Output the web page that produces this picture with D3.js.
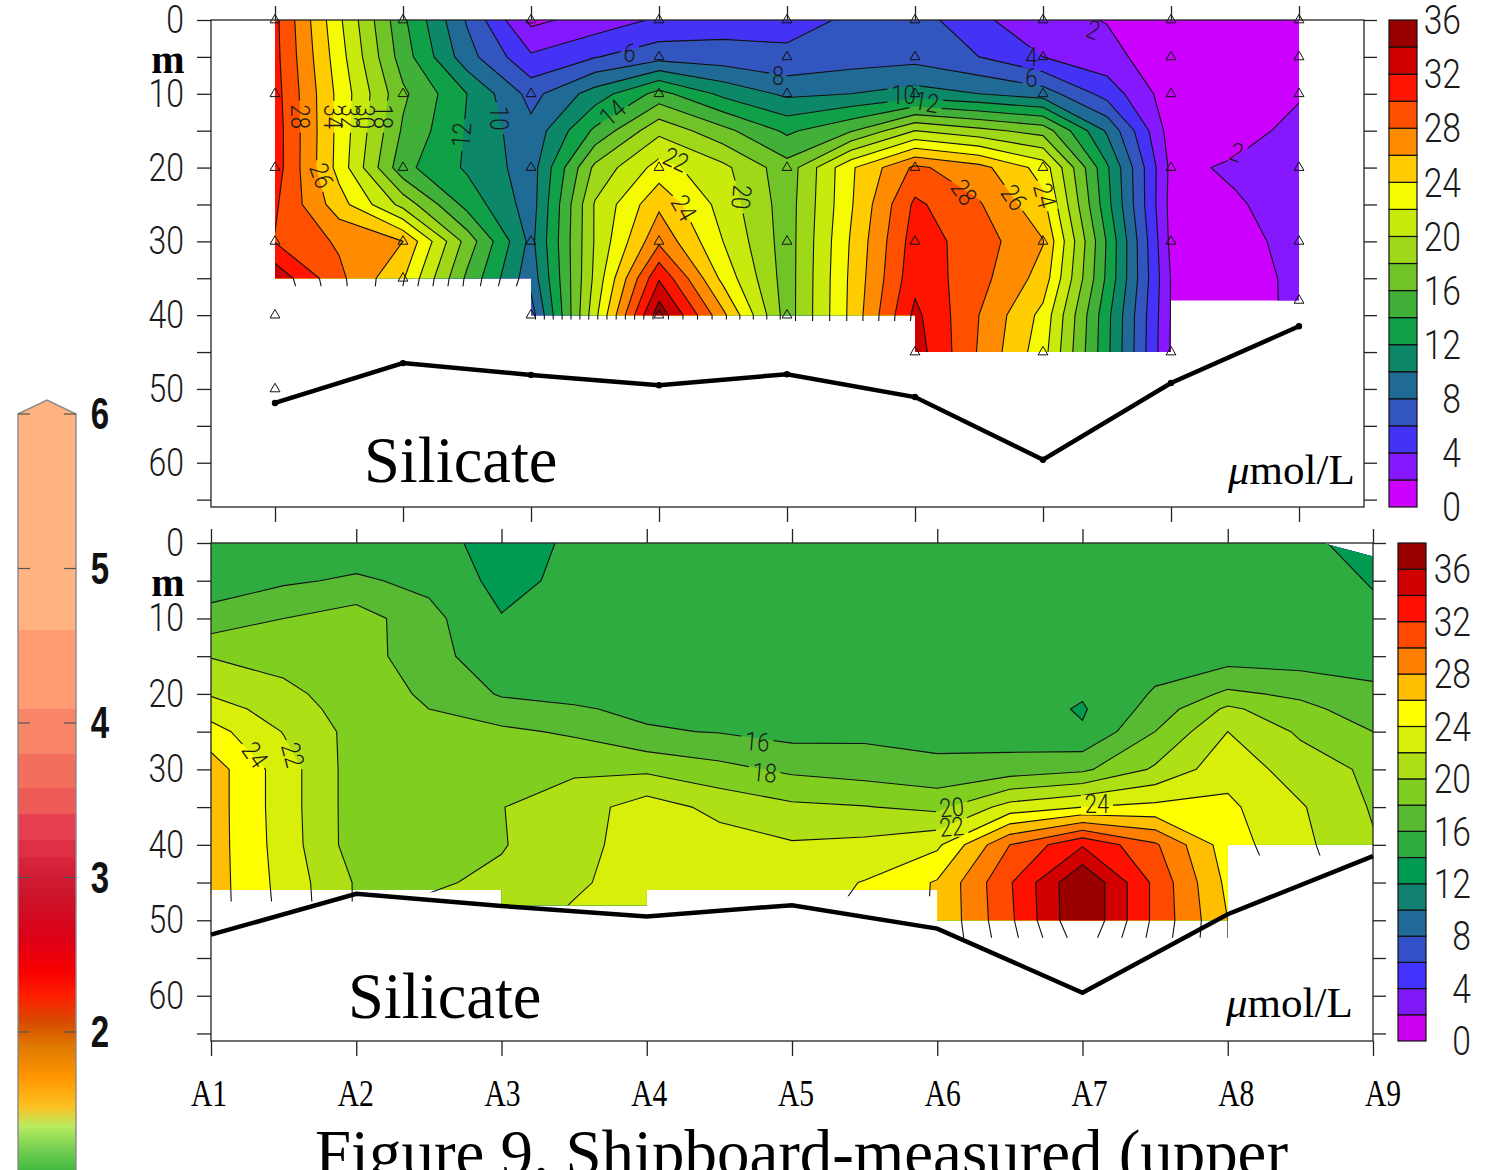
<!DOCTYPE html>
<html>
<head>
<meta charset="utf-8">
<script src="https://d3js.org/d3.v7.min.js"></script>
<style>
  html, body { margin: 0; padding: 0; background: #fff; overflow: hidden; }
  svg { display: block; }
  .thin { font-family: Roboto, "Liberation Sans", sans-serif; font-weight: 300; fill: #1a1a1a; }
  .serif { font-family: "Liberation Serif", serif; fill: #000; }
</style>
</head>
<body>
<script>

var stations = ["A1", "A2", "A3", "A4", "A5", "A6", "A7", "A8", "A9"];
var seabedDepth = [51.9, 46.5, 48.1, 49.5, 48, 51.1, 59.6, 49.2, 41.5];

// upper panel: silicate at half-station steps, one row per depth
var upperDepths = [0, 5, 10, 15, 20, 25, 30, 35, 40, 45];
var upperRow0  = [30.5, 22.4, 14.4, 7.8, 1.5, 2.8, 4.3, 5, 5.5, 6.2, 7, 4.4, 2.7, 1.9, 0.8, 0.6, 0.6];
var upperRow5  = [30.6, 22.9, 15, 8.8, 4.3, 5.9, 7.2, 6.9, 6.3, 7, 7.3, 6, 4, 2.7, 0.6, 0.3, 0.6];
var upperRow10 = [30.8, 23.4, 16.4, 12, 7.3, 10.9, 14.7, 11.5, 9.6, 10, 10.8, 10, 9, 5.2, 0.8, 0.5, 1.8];
var upperRow15 = [31, 23.4, 15.7, 11.8, 8.6, 14.4, 19.5, 16.6, 13.6, 15.8, 20, 18.6, 17.2, 9.7, 1, 1.2, 2.6];
var upperRow20 = [31, 23.3, 14.6, 11.7, 9, 18.5, 22.8, 20.5, 16.8, 23.7, 28.4, 26.7, 23.2, 12.3, 1.5, 2.3, 3];
var upperRow25 = [30.3, 24.9, 19.3, 13.3, 9, 20.2, 25.6, 21.2, 17, 23.8, 30.4, 28.2, 24.6, 12.7, 1.3, 1.8, 2.8];
var upperRow30 = [29.9, 27.7, 26, 17.2, 9.4, 20.2, 27.6, 22, 17, 24.2, 31, 29, 26.1, 13.8, 1.5, 1.5, 2.5];
var upperRow35 = [33.4, 28.5, 24.2, 15.6, 8.7, 20.5, 31.8, 23.4, 17, 24.4, 31.4, 28.7, 25.2, 13.6, 1.9, 1.4, 2.3];
var upperRow40 = [34.5, 29, 23.2, 15, 7, 21.4, 35.3, 26.5, 17, 24.5, 32.5, 28, 23.4, 12.6, 1.9, 1.4, 2.28];
var upperRow45 = [35, 30, 23, 15, 7, 21.4, 35.3, 26.5, 17, 24.5, 33, 27.8, 22.8, 12.5, 1.8, 1.4, 2];
var upperRows = [upperRow0, upperRow5, upperRow10, upperRow15, upperRow20, upperRow25, upperRow30, upperRow35, upperRow40, upperRow45];

// lower panel: same layout, one extra row at 22 m for the small patch under A7
var lowerDepths = [0, 5, 10, 15, 20, 22, 25, 30, 35, 40, 45, 50, 55];
var lowerRow0  = [15, 15, 14.7, 15.3, 12.6, 14.5, 14.6, 14.7, 14.7, 14.7, 14.8, 14.8, 14.8, 14.8, 14.8, 14.6, 13];
var lowerRow5  = [15, 15.7, 16.3, 15.5, 13.4, 14.5, 14.6, 14.7, 14.7, 14.7, 14.8, 14.8, 14.8, 14.8, 14.8, 14.7, 13.9];
var lowerRow10 = [16.7, 18, 19, 16.6, 14.1, 14.6, 14.7, 14.8, 14.8, 14.8, 14.8, 14.8, 14.8, 14.8, 14.9, 14.8, 14.3];
var lowerRow15 = [19.9, 19.3, 19, 16.7, 14.8, 14.8, 14.8, 14.8, 14.8, 14.8, 14.9, 14.8, 14.8, 15.2, 15.1, 15, 15.2];
var lowerRow20 = [21.8, 20.5, 19, 17.7, 15.8, 15.5, 15.2, 15, 14.9, 15, 15, 14.9, 14.2, 16.2, 18.4, 17.6, 16.4];
var lowerRow22 = [23, 21, 19.1, 18, 16.8, 16.2, 15.6, 15.3, 15, 15.1, 15.1, 15, 13.8, 16.8, 20.4, 18.6, 16.9];
var lowerRow25 = [24.8, 21.9, 19.3, 18.4, 18.4, 17.7, 16.2, 15.9, 15.3, 15.5, 15.3, 14.9, 14.2, 18, 22, 19.7, 18];
var lowerRow30 = [27, 23, 19, 18.9, 19.6, 19.7, 19.6, 18.6, 17.6, 17.1, 16.5, 16.9, 17.6, 20.3, 23.3, 21, 19.6];
var lowerRow35 = [27, 23, 19, 19, 19.95, 21, 23, 21.4, 20.4, 20.1, 19.5, 22.8, 24, 24.5, 24.4, 22.2, 19.8];
var lowerRow40 = [27, 23.1, 19, 19, 19.9, 21, 23.4, 22.9, 22.2, 22.5, 23.6, 30, 33.8, 30.3, 24.9, 22.5, 20.2];
var lowerRow45 = [27, 23.3, 19.8, 19.8, 20.3, 21.6, 23.2, 23, 23, 24.1, 26.2, 31.8, 38, 31.5, 25.5, 23, 20.5];
var lowerRow50 = [27, 23.5, 19.8, 20.5, 20.8, 22.5, 23.3, 23.1, 23.3, 24.6, 26.2, 31.6, 38, 31.5, 26, 23, 20.5];
var lowerRow55 = [27, 23.5, 19.8, 20.5, 20.8, 22.5, 23.3, 23.1, 23.3, 24.6, 26, 31, 36.5, 31, 26, 23, 20.5];
var lowerRows = [lowerRow0, lowerRow5, lowerRow10, lowerRow15, lowerRow20, lowerRow22, lowerRow25, lowerRow30, lowerRow35, lowerRow40, lowerRow45, lowerRow50, lowerRow55];

// colours of each 2 umol/L band, from 0 upwards
var upperColors = ["#cc00ff", "#8518ff", "#4433f5", "#3355c0", "#206a96", "#0c8868", "#10a048", "#40b038", "#70c428", "#9fd818", "#c8ea0c", "#f5fb00", "#ffcc00", "#ff8c00", "#ff5000", "#ff1400", "#d00000", "#980000"];
var lowerColors = ["#cc00f0", "#8018f8", "#4433ff", "#3350c8", "#206a9a", "#128070", "#009a50", "#2eac40", "#58ba32", "#80cf20", "#aee015", "#d8ef0a", "#ffff00", "#ffbf00", "#ff8000", "#ff4800", "#ff1000", "#d00000", "#9a0000"];

// depth limit of the shaded area between neighbouring stations
var upperFillDepth = [35, 35, 40, 40, 40, 45, 45, 38];
var lowerFillDepth = [46, 46, 48, 46, 46, 50, 50, 40];
var upperStubDepth = [1.1, 1.1, 0.6, 0.6, 0.8, 0, 0, 0];
var lowerStubDepth = [1.5, 0.3, 0, 0.8, 0.8, 2.3, 2.3, 1.4];

// bottle depths, upper panel only
var sampleDepths = [
  [0, 10, 20, 30, 40, 50],
  [0, 10, 20, 30, 35],
  [0, 10, 20, 30, 40],
  [0, 5, 10, 20, 30, 40],
  [0, 5, 10, 20, 30, 40],
  [0, 5, 10, 20, 30, 45],
  [0, 5, 10, 20, 30, 45],
  [0, 5, 10, 20, 30, 45],
  [0, 5, 10, 20, 30, 38]
];

// contour labels: text, station position, depth, rotation
var upperLabels = [
  ["28", 0.19, 13.1, 90], ["34", 0.45, 13.1, 90], ["32", 0.58, 13.1, 90], ["30", 0.70, 13.1, 90],
  ["18", 0.84, 13.1, 90], ["26", 0.36, 21.1, 70], ["12", 1.46, 15.6, -85], ["10", 1.75, 13.3, 90],
  ["14", 2.64, 12.6, -40], ["6", 2.77, 4.5, 5], ["8", 3.93, 7.7, 0], ["22", 3.13, 19, 25],
  ["24", 3.19, 25.5, 60], ["20", 3.64, 24, 95], ["10", 4.91, 10.2, 0], ["12", 5.09, 11.2, 10],
  ["28", 5.38, 23.4, 55], ["26", 5.77, 24.1, 55], ["24", 6.01, 23.8, 75], ["4", 5.91, 5.1, 0],
  ["6", 5.91, 7.9, 0], ["2", 6.39, 1.4, 20], ["2", 7.51, 18, 20]
];
var lowerLabels = [
  ["16", 3.76, 26.4, 5], ["18", 3.81, 30.5, 5], ["20", 5.1, 35.1, -5], ["22", 5.1, 37.7, -5],
  ["24", 6.1, 34.7, 0], ["24", 0.3, 28.1, 55], ["22", 0.56, 28.1, 75]
];

// colour bar pasted at the left, doubled values are hard edges
var barValues = [6.3, 4.6, 4.6, 4.09, 4.09, 3.8, 3.8, 3.58, 3.58, 3.41, 3.41, 3.24, 3.24, 3.13, 3.13, 3, 2.87, 2.61, 2.39, 2.23, 2.07, 1.9, 1.71, 1.52, 1.39, 1.23, 1.1];
var barColors = ["#ffb380", "#ffb380", "#ff9c72", "#ff9c72", "#f98569", "#f98569", "#f46e5e", "#f46e5e", "#ee5a56", "#ee5a56", "#e64050", "#e64050", "#de3045", "#de3045", "#d8243c", "#d01c34", "#cc1428", "#dc0018", "#f80000", "#ff2000", "#d84a00", "#e07a00", "#ff9500", "#fdc020", "#b8ec60", "#70cc50", "#40b840"];
var barTicks = [6, 5, 4, 3, 2, 1];

var width = 1501, height = 1170;
var levels = d3.range(0, 38, 2);

var svg = d3.select("body").append("svg")
  .attr("width", width)
  .attr("height", height);

drawPanel({
  id: "upper", rows: upperRows, depths: upperDepths, colors: upperColors,
  fillDepth: upperFillDepth, stubDepth: upperStubDepth, labels: upperLabels,
  left: 211, right: 1364, top: 20, bottom: 507, x0: 275, x1: 1299,
  legendX: 1389, legendMax: 36, legendTextX: 1461,
  titleX: 364, titleY: 482, unitX: 1228, unitY: 484, mY: 73, topCut: 0
});

drawPanel({
  id: "lower", rows: lowerRows, depths: lowerDepths, colors: lowerColors,
  fillDepth: lowerFillDepth, stubDepth: lowerStubDepth, labels: lowerLabels,
  left: 211, right: 1373, top: 543, bottom: 1041, x0: 211, x1: 1373,
  legendX: 1398, legendMax: 38, legendTextX: 1471,
  titleX: 348, titleY: 1018, unitX: 1226, unitY: 1017, mY: 596, topCut: 1.8
});

drawStationNames();
drawColorBar();

svg.append("text")
  .attr("class", "serif")
  .attr("x", 315)
  .attr("y", 1175)
  .attr("font-size", 65)
  .attr("textLength", 973)
  .attr("lengthAdjust", "spacingAndGlyphs")
  .text("Figure 9. Shipboard-measured (upper");

function drawPanel(p) {
  var g = svg.append("g").attr("id", p.id);

  var x = d3.scaleLinear().domain([0, 8]).range([p.x0, p.x1]);
  var y = d3.scaleLinear().domain([0, 66]).range([p.top, p.bottom]);
  var rowDepth = d3.scaleLinear().domain(d3.range(p.depths.length)).range(p.depths);

  // d3.contours puts sample i at i + 0.5
  var project = d3.geoTransform({
    point: function(px, py) {
      this.stream.point(x((px - 0.5) / 2), y(rowDepth(py - 0.5)));
    }
  });
  var path = d3.geoPath(project);

  var nx = p.rows[0].length, ny = p.rows.length;
  var shapes = d3.contours().size([nx, ny]).thresholds(levels)(d3.merge(p.rows));

  // shaded area stops in steps at some stations
  var fillOutline = outline(p.fillDepth, null);
  var lineOutline = outline(p.fillDepth, p.stubDepth);

  function outline(depth, stub) {
    var pts = [];
    if (p.topCut) {
      pts.push([x(0), y(0)], [x(7.65), y(0)], [x(8), y(p.topCut)]);
    } else {
      pts.push([x(0), y(0)], [x(8), y(0)]);
    }
    d3.range(depth.length - 1, -1, -1).forEach(function(i) {
      var d = depth[i] + (stub ? stub[i] : 0);
      pts.push([x(i + 1), y(d)], [x(i), y(d)]);
    });
    return pts;
  }

  var defs = g.append("defs");
  defs.append("clipPath").attr("id", p.id + "-fill")
    .append("polygon").attr("points", fillOutline.join(" "));
  defs.append("clipPath").attr("id", p.id + "-line")
    .append("polygon").attr("points", lineOutline.join(" "));

  // gaps in the contour lines behind the labels
  var gapMask = defs.append("mask").attr("id", p.id + "-gaps")
    .attr("maskUnits", "userSpaceOnUse")
    .attr("x", 0).attr("y", 0).attr("width", width).attr("height", height);
  gapMask.append("rect").attr("width", width).attr("height", height).attr("fill", "#fff");
  gapMask.selectAll(".gap").data(p.labels).enter().append("rect")
    .attr("class", "gap")
    .attr("x", function(d) { return -d[0].length * 7 - 2; })
    .attr("y", -10)
    .attr("width", function(d) { return d[0].length * 14 + 4; })
    .attr("height", 20)
    .attr("fill", "#000")
    .attr("transform", function(d) {
      return "translate(" + x(d[1]) + "," + y(d[2]) + ") rotate(" + d[3] + ")";
    });

  g.append("g")
    .attr("clip-path", "url(#" + p.id + "-fill)")
    .selectAll("path")
    .data(shapes)
    .enter().append("path")
    .attr("d", path)
    .attr("fill", function(d) { return p.colors[d.value / 2]; });

  g.append("g")
    .attr("clip-path", "url(#" + p.id + "-line)")
    .append("g")
    .attr("mask", "url(#" + p.id + "-gaps)")
    .selectAll("path")
    .data(shapes.slice(1))
    .enter().append("path")
    .attr("d", path)
    .attr("fill", "none")
    .attr("stroke", "#111")
    .attr("stroke-width", 1.1);

  g.selectAll(".contour-label")
    .data(p.labels)
    .enter().append("text")
    .attr("class", "contour-label thin")
    .attr("font-size", 26)
    .attr("text-anchor", "middle")
    .attr("dominant-baseline", "central")
    .attr("transform", function(d) {
      return "translate(" + x(d[1]) + "," + y(d[2]) + ") rotate(" + d[3] + ") scale(0.85,1)";
    })
    .text(function(d) { return d[0]; });

  // frame and ticks
  g.append("rect")
    .attr("x", p.left).attr("y", p.top)
    .attr("width", p.right - p.left).attr("height", p.bottom - p.top)
    .attr("fill", "none").attr("stroke", "#222").attr("stroke-width", 1.3);

  var depthTicks = d3.range(0, 70, 5);
  var leftAxis = g.append("g")
    .attr("transform", "translate(" + p.left + ",0)")
    .call(d3.axisLeft(y).tickValues(depthTicks).tickSize(14)
      .tickFormat(function(d) { return d % 10 ? "" : d; }));
  leftAxis.selectAll("text")
    .attr("class", "thin")
    .attr("font-size", 39)
    .attr("x", 0)
    .attr("transform", "translate(-27,0) scale(0.82,1)");
  g.append("g")
    .attr("transform", "translate(" + p.right + ",0)")
    .call(d3.axisRight(y).tickValues(depthTicks).tickSize(13).tickFormat(""));

  var stationX = d3.scaleLinear().domain([0, 8]).range([p.x0, p.x1]);
  g.append("g")
    .attr("transform", "translate(0," + p.top + ")")
    .call(d3.axisTop(stationX).tickValues(d3.range(9)).tickSize(14).tickFormat(""));
  g.append("g")
    .attr("transform", "translate(0," + p.bottom + ")")
    .call(d3.axisBottom(stationX).tickValues(d3.range(9)).tickSize(15).tickFormat(""));
  g.selectAll(".domain").remove();
  g.selectAll(".tick line").attr("stroke", "#222").attr("stroke-width", 1.3);

  // seabed
  g.append("path")
    .datum(seabedDepth)
    .attr("d", d3.line().x(function(d, i) { return x(i); }).y(function(d) { return y(d); }))
    .attr("fill", "none")
    .attr("stroke", "#000")
    .attr("stroke-width", 4.5);

  if (p.id == "upper") {
    g.selectAll(".seabed-dot").data(seabedDepth).enter().append("circle")
      .attr("class", "seabed-dot")
      .attr("cx", function(d, i) { return x(i); })
      .attr("cy", function(d) { return y(d); })
      .attr("r", 3.2);

    var triangle = d3.symbol().type(d3.symbolTriangle).size(42);
    sampleDepths.forEach(function(depths, i) {
      g.selectAll(".sample-" + i).data(depths).enter().append("path")
        .attr("class", "sample-" + i)
        .attr("d", triangle)
        .attr("transform", function(d) { return "translate(" + x(i) + "," + y(d) + ")"; })
        .attr("fill", "none")
        .attr("stroke", "#111")
        .attr("stroke-width", 1);
    });
  }

  // legend
  var legendY = d3.scaleLinear().domain([0, p.legendMax]).range([p.bottom, p.top]);
  g.selectAll(".band").data(p.colors).enter().append("rect")
    .attr("class", "band")
    .attr("x", p.legendX)
    .attr("width", 28)
    .attr("y", function(d, i) { return legendY(i * 2 + 2); })
    .attr("height", function(d, i) { return legendY(i * 2) - legendY(i * 2 + 2); })
    .attr("fill", function(d) { return d; })
    .attr("stroke", "#111")
    .attr("stroke-width", 1.2);
  g.selectAll(".legend-label").data(d3.range(0, 40, 4)).enter().append("text")
    .attr("class", "legend-label thin")
    .attr("font-size", 41)
    .attr("text-anchor", "end")
    .attr("dominant-baseline", "central")
    .attr("transform", function(d) {
      return "translate(" + p.legendTextX + "," + legendY(d) + ") scale(0.82,1)";
    })
    .text(function(d) { return d; });

  // titles
  g.append("text").attr("class", "serif")
    .attr("x", p.titleX).attr("y", p.titleY).attr("font-size", 64.5)
    .text("Silicate");
  var unit = g.append("text").attr("class", "serif")
    .attr("x", p.unitX).attr("y", p.unitY).attr("font-size", 43);
  unit.append("tspan").attr("font-style", "italic").text("\u03bc");
  unit.append("tspan").text("mol/L");
  g.append("text").attr("class", "serif")
    .attr("x", 168).attr("y", p.mY).attr("font-size", 40)
    .attr("font-weight", "bold").attr("text-anchor", "middle")
    .text("m");
}

function drawStationNames() {
  var labelX = d3.scaleLinear().domain([0, 8]).range([209, 1383]);
  svg.selectAll(".station").data(stations).enter().append("text")
    .attr("class", "station serif")
    .attr("font-size", 37)
    .attr("text-anchor", "middle")
    .attr("transform", function(d, i) { return "translate(" + labelX(i) + ",1106) scale(0.8,1)"; })
    .text(function(d) { return d; });
}

function drawColorBar() {
  var barY = d3.scaleLinear().domain([6, 5]).range([414, 568.5]);
  var top = barY(barValues[0]), bottom = barY(barValues[barValues.length - 1]);

  var grad = svg.append("defs").append("linearGradient")
    .attr("id", "bar-colors")
    .attr("gradientUnits", "userSpaceOnUse")
    .attr("x1", 0).attr("x2", 0).attr("y1", top).attr("y2", bottom);
  grad.selectAll("stop").data(barValues).enter().append("stop")
    .attr("offset", function(d) { return (barY(d) - top) / (bottom - top); })
    .attr("stop-color", function(d, i) { return barColors[i]; });

  // body with the arrow tip, straight down past the page edge
  var bar = [[18, barY(6)], [47, barY(6.09)], [76, barY(6)], [76, bottom], [18, bottom]];
  svg.append("polygon")
    .attr("points", bar.join(" "))
    .attr("fill", "url(#bar-colors)")
    .attr("stroke", "#8a8a8a")
    .attr("stroke-width", 1.4);

  svg.selectAll(".bar-tick-l").data(barTicks.slice(0)).enter().append("line")
    .attr("class", "bar-tick-l")
    .attr("x1", 18).attr("x2", 30)
    .attr("y1", barY).attr("y2", barY)
    .attr("stroke", "#555").attr("stroke-width", 1.2);
  svg.selectAll(".bar-tick-r").data(barTicks.slice(0)).enter().append("line")
    .attr("class", "bar-tick-r")
    .attr("x1", 64).attr("x2", 76)
    .attr("y1", barY).attr("y2", barY)
    .attr("stroke", "#555").attr("stroke-width", 1.2);

  svg.selectAll(".bar-label").data(barTicks).enter().append("text")
    .attr("class", "bar-label")
    .attr("font-family", "Liberation Sans, sans-serif")
    .attr("font-weight", "bold")
    .attr("font-size", 44)
    .attr("text-anchor", "middle")
    .attr("dominant-baseline", "central")
    .attr("fill", "#111")
    .attr("transform", function(d) { return "translate(100," + barY(d) + ") scale(0.75,1)"; })
    .text(function(d) { return d; });
}

</script>
</body>
</html>
